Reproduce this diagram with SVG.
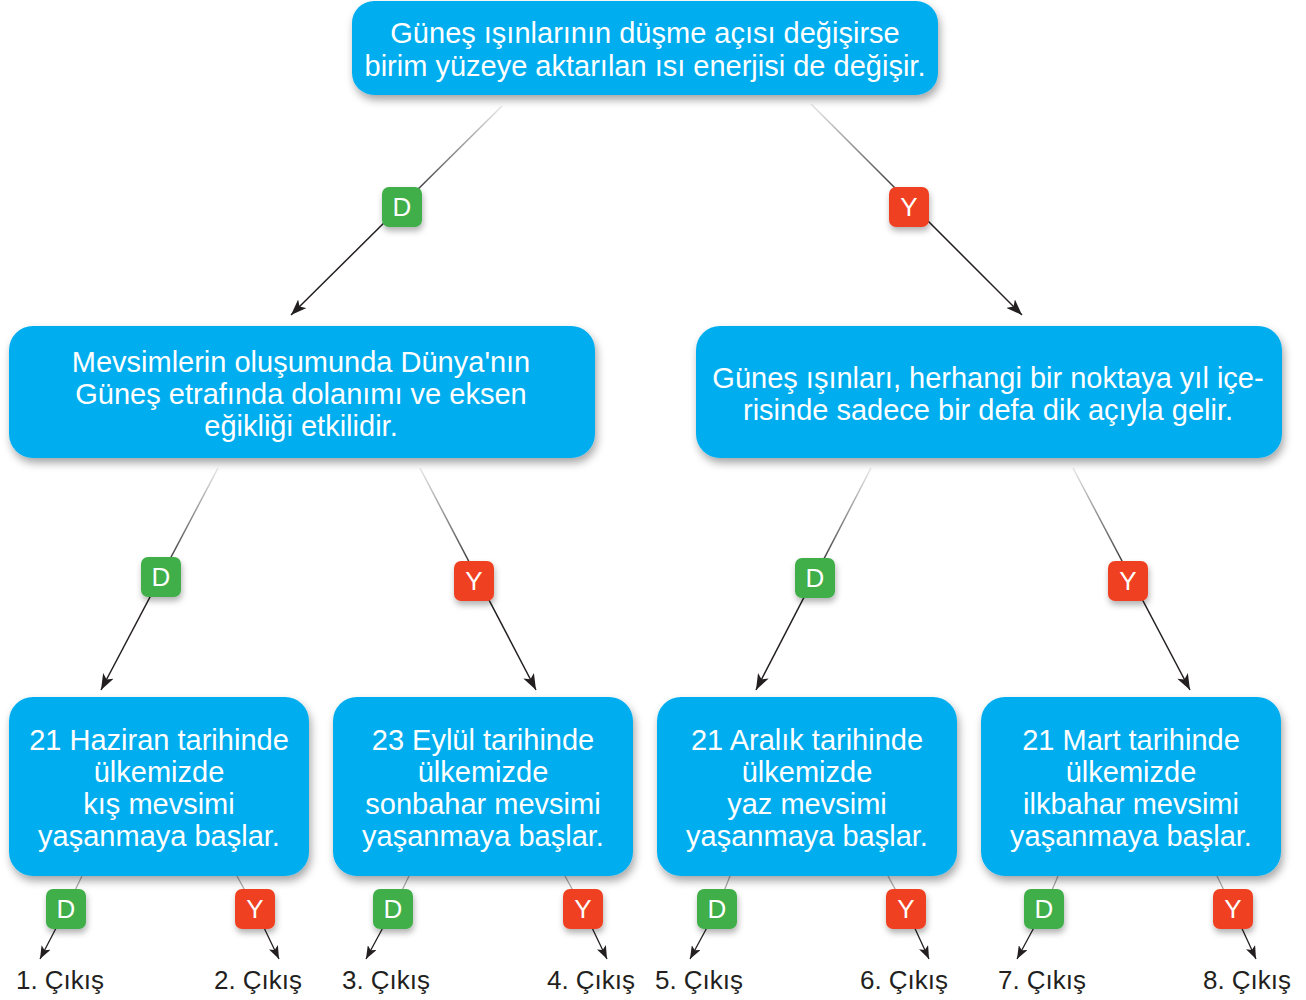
<svg xmlns="http://www.w3.org/2000/svg" width="1306" height="1000" viewBox="0 0 1306 1000">
<style>
.box{fill:#00AEEF;filter:url(#sh);}
.bt{font-family:"Liberation Sans",Arial,sans-serif;font-size:29px;fill:#fff;text-anchor:middle;}
.bd{font-family:"Liberation Sans",Arial,sans-serif;font-size:26px;fill:#fff;text-anchor:middle;}
.out{font-family:"Liberation Sans",Arial,sans-serif;font-size:26px;fill:#231F20;text-anchor:middle;}
.g{fill:#3FAE49;filter:url(#sh2);}
.r{fill:#EF4123;filter:url(#sh2);}
.c{fill:none;stroke-width:1.5;}
</style>
<defs>
<filter id="sh" x="-10%" y="-20%" width="120%" height="150%">
<feDropShadow dx="2" dy="5" stdDeviation="4" flood-color="#000" flood-opacity="0.35"/>
</filter>
<filter id="sh2" x="-50%" y="-50%" width="200%" height="220%">
<feDropShadow dx="1" dy="4" stdDeviation="3" flood-color="#000" flood-opacity="0.3"/>
</filter>
<marker id="a" markerUnits="userSpaceOnUse" markerWidth="18" markerHeight="12" refX="16" refY="6" orient="auto">
<path d="M0,0 L16,6 L0,12 L4,6 z" fill="#231F20"/>
</marker>
<marker id="as" markerUnits="userSpaceOnUse" markerWidth="14" markerHeight="10" refX="13" refY="5" orient="auto">
<path d="M0,0 L13,5 L0,10 L3,5 z" fill="#231F20"/>
</marker>
<linearGradient id="g1" gradientUnits="userSpaceOnUse" x1="502" y1="106" x2="402" y2="207"><stop offset="0" stop-color="#e8e8e8"/><stop offset="1" stop-color="#231F20"/></linearGradient>
<linearGradient id="g2" gradientUnits="userSpaceOnUse" x1="811" y1="104" x2="909" y2="207"><stop offset="0" stop-color="#e8e8e8"/><stop offset="1" stop-color="#231F20"/></linearGradient>
<linearGradient id="g3" gradientUnits="userSpaceOnUse" x1="218" y1="468" x2="161" y2="577"><stop offset="0" stop-color="#e8e8e8"/><stop offset="1" stop-color="#231F20"/></linearGradient>
<linearGradient id="g4" gradientUnits="userSpaceOnUse" x1="420" y1="468" x2="474" y2="581"><stop offset="0" stop-color="#e8e8e8"/><stop offset="1" stop-color="#231F20"/></linearGradient>
<linearGradient id="g5" gradientUnits="userSpaceOnUse" x1="871" y1="468" x2="815" y2="578"><stop offset="0" stop-color="#e8e8e8"/><stop offset="1" stop-color="#231F20"/></linearGradient>
<linearGradient id="g6" gradientUnits="userSpaceOnUse" x1="1073" y1="468" x2="1128" y2="581"><stop offset="0" stop-color="#e8e8e8"/><stop offset="1" stop-color="#231F20"/></linearGradient>
<linearGradient id="gb" x1="0" y1="0" x2="0" y2="1"><stop offset="0" stop-color="#bbbbbb"/><stop offset="0.4" stop-color="#9a9a9a"/><stop offset="0.45" stop-color="#3a3a3a"/><stop offset="1" stop-color="#231F20"/></linearGradient>
</defs>
<rect width="1306" height="1000" fill="#fff"/>
<g id="connectors">
<path class="c" stroke="url(#g1)" d="M502,106 L291,315" marker-end="url(#a)"/>
<path class="c" stroke="url(#g2)" d="M811,104 L1022,315" marker-end="url(#a)"/>
<path class="c" stroke="url(#g3)" d="M218,468 L101,690" marker-end="url(#a)"/>
<path class="c" stroke="url(#g4)" d="M420,468 L536,690" marker-end="url(#a)"/>
<path class="c" stroke="url(#g5)" d="M871,468 L756,690" marker-end="url(#a)"/>
<path class="c" stroke="url(#g6)" d="M1073,468 L1190,690" marker-end="url(#a)"/>
<g stroke-width="1.3" fill="none">
<path d="M82,876 L66,909" stroke="#aaa"/><path d="M66,909 L40,959" stroke="#231F20" marker-end="url(#as)"/>
<path d="M237,876 L255,909" stroke="#aaa"/><path d="M255,909 L279,959" stroke="#231F20" marker-end="url(#as)"/>
<path d="M409,876 L393,909" stroke="#aaa"/><path d="M393,909 L366,959" stroke="#231F20" marker-end="url(#as)"/>
<path d="M565,876 L583,909" stroke="#aaa"/><path d="M583,909 L607,959" stroke="#231F20" marker-end="url(#as)"/>
<path d="M730,876 L717,909" stroke="#aaa"/><path d="M717,909 L690,959" stroke="#231F20" marker-end="url(#as)"/>
<path d="M888,876 L906,909" stroke="#aaa"/><path d="M906,909 L929,959" stroke="#231F20" marker-end="url(#as)"/>
<path d="M1058,876 L1044,909" stroke="#aaa"/><path d="M1044,909 L1017,959" stroke="#231F20" marker-end="url(#as)"/>
<path d="M1217,876 L1233,909" stroke="#aaa"/><path d="M1233,909 L1256,959" stroke="#231F20" marker-end="url(#as)"/>
</g>
</g>
<g id="n0"><rect class="box" x="352" y="1" width="586" height="94" rx="22"/>
<text class="bt" x="645" y="43">Güneş ışınlarının düşme açısı değişirse</text>
<text class="bt" x="645" y="76">birim yüzeye aktarılan ısı enerjisi de değişir.</text></g>
<g id="n1"><rect class="box" x="9" y="326" width="586" height="132" rx="24"/>
<text class="bt" x="301" y="372">Mevsimlerin oluşumunda Dünya'nın</text>
<text class="bt" x="301" y="404">Güneş etrafında dolanımı ve eksen</text>
<text class="bt" x="301" y="436">eğikliği etkilidir.</text></g>
<g id="n2"><rect class="box" x="696" y="326" width="586" height="132" rx="24"/>
<text class="bt" x="988" y="388">Güneş ışınları, herhangi bir noktaya yıl içe-</text>
<text class="bt" x="988" y="420">risinde sadece bir defa dik açıyla gelir.</text></g>
<g id="n3"><rect class="box" x="9" y="697" width="300" height="179" rx="24"/>
<text class="bt" x="159" y="750">21 Haziran tarihinde</text>
<text class="bt" x="159" y="782">ülkemizde</text>
<text class="bt" x="159" y="814">kış mevsimi</text>
<text class="bt" x="159" y="846">yaşanmaya başlar.</text></g>
<g id="n4"><rect class="box" x="333" y="697" width="300" height="179" rx="24"/>
<text class="bt" x="483" y="750">23 Eylül tarihinde</text>
<text class="bt" x="483" y="782">ülkemizde</text>
<text class="bt" x="483" y="814">sonbahar mevsimi</text>
<text class="bt" x="483" y="846">yaşanmaya başlar.</text></g>
<g id="n5"><rect class="box" x="657" y="697" width="300" height="179" rx="24"/>
<text class="bt" x="807" y="750">21 Aralık tarihinde</text>
<text class="bt" x="807" y="782">ülkemizde</text>
<text class="bt" x="807" y="814">yaz mevsimi</text>
<text class="bt" x="807" y="846">yaşanmaya başlar.</text></g>
<g id="n6"><rect class="box" x="981" y="697" width="300" height="179" rx="24"/>
<text class="bt" x="1131" y="750">21 Mart tarihinde</text>
<text class="bt" x="1131" y="782">ülkemizde</text>
<text class="bt" x="1131" y="814">ilkbahar mevsimi</text>
<text class="bt" x="1131" y="846">yaşanmaya başlar.</text></g>
<g id="badges">
<g id="b1"><rect class="g" x="382" y="187" width="40" height="40" rx="7"/><text class="bd" x="402" y="216">D</text></g>
<g id="b2"><rect class="r" x="889" y="187" width="40" height="40" rx="7"/><text class="bd" x="909" y="216">Y</text></g>
<g id="b3"><rect class="g" x="141" y="557" width="40" height="40" rx="7"/><text class="bd" x="161" y="586">D</text></g>
<g id="b4"><rect class="r" x="454" y="561" width="40" height="40" rx="7"/><text class="bd" x="474" y="590">Y</text></g>
<g id="b5"><rect class="g" x="795" y="558" width="40" height="40" rx="7"/><text class="bd" x="815" y="587">D</text></g>
<g id="b6"><rect class="r" x="1108" y="561" width="40" height="40" rx="7"/><text class="bd" x="1128" y="590">Y</text></g>
<g id="b7"><rect class="g" x="46" y="889" width="40" height="40" rx="7"/><text class="bd" x="66" y="918">D</text></g>
<g id="b8"><rect class="r" x="235" y="889" width="40" height="40" rx="7"/><text class="bd" x="255" y="918">Y</text></g>
<g id="b9"><rect class="g" x="373" y="889" width="40" height="40" rx="7"/><text class="bd" x="393" y="918">D</text></g>
<g id="b10"><rect class="r" x="563" y="889" width="40" height="40" rx="7"/><text class="bd" x="583" y="918">Y</text></g>
<g id="b11"><rect class="g" x="697" y="889" width="40" height="40" rx="7"/><text class="bd" x="717" y="918">D</text></g>
<g id="b12"><rect class="r" x="886" y="889" width="40" height="40" rx="7"/><text class="bd" x="906" y="918">Y</text></g>
<g id="b13"><rect class="g" x="1024" y="889" width="40" height="40" rx="7"/><text class="bd" x="1044" y="918">D</text></g>
<g id="b14"><rect class="r" x="1213" y="889" width="40" height="40" rx="7"/><text class="bd" x="1233" y="918">Y</text></g>
</g>
<g id="outputs">
<text class="out" x="60" y="989">1. Çıkış</text>
<text class="out" x="258" y="989">2. Çıkış</text>
<text class="out" x="386" y="989">3. Çıkış</text>
<text class="out" x="591" y="989">4. Çıkış</text>
<text class="out" x="699" y="989">5. Çıkış</text>
<text class="out" x="904" y="989">6. Çıkış</text>
<text class="out" x="1042" y="989">7. Çıkış</text>
<text class="out" x="1247" y="989">8. Çıkış</text>
</g>
</svg>
